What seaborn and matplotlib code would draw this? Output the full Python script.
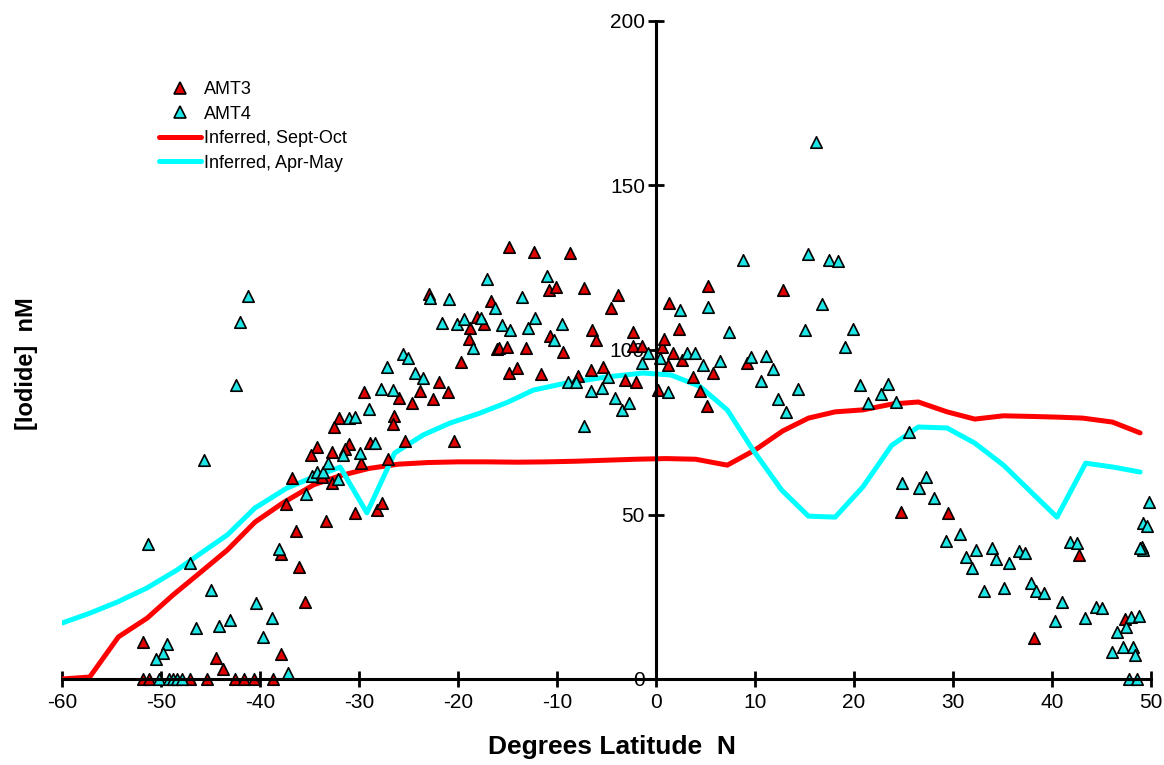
import matplotlib
matplotlib.use("Agg")
import matplotlib.pyplot as plt
import pandas as pd
import seaborn as sns
from matplotlib.lines import Line2D

# measured iodide (lat, nM)
amt3_points = [
    (-51.8, 0), (-51.2, 0), (-47.1, 0), (-45.4, 0), (-42.5, 0), (-41.6, 0), (-40.6, 0), (-38.7, 0),
    (-51.8, 11.2), (-44.4, 6.4), (-43.7, 3.0), (-37.9, 7.6),
    (-35.5, 23.4), (-36.1, 34.0), (-37.9, 38.0), (-36.4, 45.0), (-37.4, 53.2), (-33.3, 48.0),
    (-36.8, 61.0), (-33.7, 61.4), (-32.7, 59.6), (-30.4, 50.5), (-28.2, 51.4), (-27.7, 53.5),
    (-29.8, 65.6), (-27.1, 66.9),
    (-21.9, 90.3), (-23.8, 87.5), (-22.5, 85.1), (-24.6, 83.9), (-26.0, 85.4), (-29.5, 87.2),
    (-26.5, 80.0), (-26.6, 77.5), (-32.0, 79.3), (-32.5, 76.6), (-25.4, 72.3), (-28.9, 71.7),
    (-31.0, 71.4), (-31.4, 69.9), (-34.2, 70.5), (-34.8, 68.0), (-32.7, 69.0), (-21.0, 87.2),
    (-20.4, 72.3),
    (-22.9, 117.0), (-16.7, 114.9), (-18.8, 106.7), (-18.1, 110.0), (-17.4, 107.9), (-18.9, 103.3),
    (-19.7, 96.4), (-16.1, 100.3),
    (-14.8, 131.3), (-12.3, 129.8), (-8.7, 129.5), (-10.8, 118.2), (-10.1, 119.1), (-7.3, 118.8),
    (-10.7, 104.3), (-15.9, 100.6), (-15.1, 100.9), (-13.1, 100.6), (-9.4, 99.4), (-14.8, 93.0),
    (-14.0, 94.5), (-11.6, 92.7), (-7.9, 92.1), (-6.6, 93.9), (-6.5, 106.0), (-6.1, 103.0),
    (-3.8, 116.7), (-4.5, 112.8), (5.3, 119.5), (1.3, 114.3), (2.3, 106.4), (-2.3, 105.5),
    (-2.3, 101.2), (-1.4, 101.2), (0.6, 100.9), (0.8, 103.3), (1.7, 99.1), (2.6, 97.0),
    (1.2, 95.4), (5.8, 93.0), (3.7, 91.8), (-5.4, 94.8), (-3.1, 90.9), (-2.0, 90.3),
    (0.2, 87.8), (4.4, 87.5), (5.2, 83.0),
    (12.8, 118.2), (9.2, 96.0), (24.7, 50.8), (29.5, 50.5), (38.2, 12.5), (42.7, 37.7), (47.4, 18.2),
]

amt4_points = [
    (-50.2, 0), (-49.2, 0), (-48.8, 0), (-48.4, 0), (-47.9, 0), (-37.2, 1.8),
    (-49.4, 10.6), (-49.8, 7.9), (-50.5, 6.1), (-39.7, 12.8),
    (-45.7, 66.6), (-51.3, 41.0), (-47.1, 35.3), (-45.0, 27.0), (-40.4, 23.0), (-46.5, 15.5),
    (-44.1, 16.1), (-43.0, 17.9), (-38.8, 18.5),
    (-38.1, 39.5), (-35.4, 56.2), (-34.7, 61.7), (-34.2, 63.0), (-33.6, 63.0), (-33.1, 65.6),
    (-32.1, 60.8), (-29.9, 68.7), (-31.6, 68.0),
    (-25.6, 98.8), (-25.1, 97.6), (-27.2, 94.8), (-24.3, 93.0), (-23.5, 91.5), (-26.6, 87.8),
    (-27.8, 88.1), (-29.0, 82.0), (-31.0, 79.3), (-30.4, 79.6), (-28.4, 71.7),
    (-41.2, 116.4), (-42.0, 108.5), (-42.4, 89.4),
    (-17.1, 121.6), (-22.8, 115.8), (-20.9, 115.5), (-16.3, 112.8), (-21.6, 108.2), (-20.1, 107.9),
    (-19.4, 109.4), (-17.7, 109.7), (-18.5, 100.6),
    (-11.0, 122.5), (-13.5, 116.1), (-15.6, 107.6), (-14.7, 106.0), (-12.2, 109.7), (-12.9, 106.7),
    (-9.5, 107.9), (-10.3, 103.0), (-8.9, 90.3), (-8.1, 90.3), (-6.6, 87.5), (-7.3, 76.9),
    (5.3, 113.0), (2.4, 112.2), (-0.8, 99.1), (0.4, 97.6), (3.1, 99.1), (3.9, 99.1),
    (4.7, 95.4), (6.5, 96.7), (-1.4, 96.0), (-4.8, 91.8), (1.2, 87.2), (-5.5, 88.4),
    (-4.1, 85.4), (-3.4, 81.8), (-2.7, 83.9),
    (16.2, 163.2), (8.8, 127.4), (15.4, 129.2), (17.5, 127.4), (18.4, 127.0), (16.8, 114.0),
    (7.4, 105.5), (15.1, 106.1), (19.9, 106.4), (19.1, 100.9), (9.6, 97.9), (11.1, 98.2),
    (11.8, 94.2), (10.6, 90.6), (14.3, 88.1), (12.3, 85.1), (13.1, 81.2), (20.6, 89.4),
    (23.4, 89.7), (22.7, 86.6), (21.4, 83.9), (24.2, 84.2), (25.6, 75.0),
    (24.8, 59.6), (26.6, 58.1), (27.3, 61.4), (28.1, 55.0), (29.3, 41.9), (30.7, 44.1),
    (31.3, 37.1), (32.3, 39.2), (31.9, 33.7), (33.9, 39.8), (34.3, 36.5), (35.7, 35.3),
    (33.1, 26.7), (35.2, 27.7), (36.7, 38.9), (37.3, 38.3), (37.9, 29.2), (38.4, 26.7),
    (39.2, 26.1), (41.0, 23.4), (40.3, 17.6), (41.8, 41.6), (42.5, 41.3), (43.3, 18.5),
    (44.4, 21.9), (45.1, 21.6),
    (46.1, 8.2), (46.6, 14.3), (47.5, 15.8), (48.0, 18.8), (48.8, 19.1), (47.2, 9.7),
    (48.2, 9.7), (48.4, 7.3), (47.8, 0), (48.6, 0), (49.8, 53.8), (49.2, 47.4),
    (49.6, 46.5), (49.1, 40.1), (49.2, 39.2), (48.9, 39.8),
]

# inferred curves
sept_oct_lat = [-60, -57.2, -54.3, -51.4, -48.8, -46.1, -43.3, -40.5, -37.7, -34.6,
                -31.9, -29, -26, -23, -20, -17, -14, -11, -8, -5,
                -2, 1, 4, 7.2, 10, 12.8, 15.4, 18.1, 20.9, 23.9,
                26.5, 29.4, 32.2, 35.1, 38, 40.5, 43.1, 46.1, 48.9]
sept_oct_iod = [0, 0.6, 12.8, 18.5, 25.5, 32.2, 39.2, 47.7, 53.5, 59,
                61.8, 64, 65.3, 65.8, 66, 66, 65.9, 66, 66.2, 66.5,
                66.8, 67, 66.8, 65, 69.6, 75.4, 79.3, 81.2, 81.8, 83.6,
                84.2, 81.2, 79, 80, 79.8, 79.6, 79.3, 78.1, 74.8]
apr_may_lat = [-60, -57.2, -54.4, -51.4, -48.4, -45.8, -43.3, -40.5, -37.3, -34.6,
               -31.9, -29.2, -26.4, -23.5, -20.8, -17.8, -15, -12.4, -9, -5,
               -1.3, 1.5, 4.4, 7.2, 9.8, 12.7, 15.4, 18.1, 20.9, 23.8,
               26.5, 29.4, 32.2, 35.1, 38, 40.5, 43.4, 46.2, 48.9]
apr_may_iod = [17, 20, 23.4, 27.7, 33.1, 38.6, 43.8, 52, 58, 61.4,
               64.4, 50.5, 68.7, 74.2, 77.8, 80.8, 84.1, 87.8, 90, 91.8,
               93, 92.4, 89, 81.8, 69.6, 57.4, 49.5, 49.2, 58.4, 71,
               76.6, 76.3, 71.7, 65, 56.5, 49.2, 65.6, 64.4, 62.9]

RED_LINE, CYAN_LINE = "#ff0000", "#00ffff"
RED_MARK, CYAN_MARK = "#e00000", "#1ee6e6"

sns.set_style("white")
plt.rcParams["font.family"] = ["Liberation Sans", "DejaVu Sans"]
plt.rcParams["axes.unicode_minus"] = False
plt.rcParams["text.color"] = "black"
plt.rcParams["axes.labelcolor"] = "black"

amt3 = pd.DataFrame(amt3_points, columns=["lat", "iodide"])
amt4 = pd.DataFrame(amt4_points, columns=["lat", "iodide"])
sept = pd.DataFrame({"lat": sept_oct_lat, "iodide": sept_oct_iod})
april = pd.DataFrame({"lat": apr_may_lat, "iodide": apr_may_iod})

fig = plt.figure(figsize=(11.64, 7.65), dpi=100)
ax = fig.add_axes([62 / 1164, 1 - 679 / 765, 1089 / 1164, 658 / 765])

sns.lineplot(data=sept, x="lat", y="iodide", color=RED_LINE, linewidth=3.6, sort=False, ax=ax, zorder=2)
sns.lineplot(data=april, x="lat", y="iodide", color=CYAN_LINE, linewidth=3.6, sort=False, ax=ax, zorder=2)
sns.scatterplot(data=amt3, x="lat", y="iodide", marker="^", s=68, color=RED_MARK,
                edgecolor="black", linewidth=1.2, ax=ax, zorder=3, clip_on=False)
sns.scatterplot(data=amt4, x="lat", y="iodide", marker="^", s=68, color=CYAN_MARK,
                edgecolor="black", linewidth=1.2, ax=ax, zorder=4, clip_on=False)

ax.set_xlim(-60, 50)
ax.set_ylim(0, 200)
ax.set_xticks(range(-60, 51, 10))
ax.set_yticks(range(0, 201, 50))
for side in ["top", "right"]:
    ax.spines[side].set_visible(False)
ax.spines["left"].set_position(("data", 0))
ax.spines["bottom"].set_position(("data", 0))
for side in ["left", "bottom"]:
    ax.spines[side].set_linewidth(2.2)
    ax.spines[side].set_color("black")
    ax.spines[side].set_zorder(5)
ax.tick_params(axis="both", direction="inout", length=12, width=2, color="black",
               labelsize=15, labelcolor="black", bottom=True, left=True)
ax.tick_params(axis="x", pad=4)
ax.tick_params(axis="y", pad=2)

ax.set_xlabel("Degrees Latitude  N", fontsize=19, fontweight="bold")
ax.set_ylabel("[Iodide]  nM", fontsize=17, fontweight="bold")
ax.xaxis.set_label_coords(0.505, -0.085)
ax.yaxis.set_label_coords(-0.022, 0.48)

handles = [
    Line2D([], [], linestyle="none", marker="^", markersize=8.5, markerfacecolor=RED_MARK,
           markeredgecolor="black", markeredgewidth=1.2),
    Line2D([], [], linestyle="none", marker="^", markersize=8.5, markerfacecolor=CYAN_MARK,
           markeredgecolor="black", markeredgewidth=1.2),
    Line2D([], [], color=RED_LINE, linewidth=3.6),
    Line2D([], [], color=CYAN_LINE, linewidth=3.6),
]
labels = ["AMT3", "AMT4", "Inferred, Sept-Oct", "Inferred, Apr-May"]
leg = fig.legend(handles, labels, loc="upper left", bbox_to_anchor=(159 / 1164, 1 - 81 / 765),
                 frameon=False, fontsize=13, handlelength=2.3, handletextpad=0.2,
                 labelspacing=0.42, borderpad=0, borderaxespad=0)
for text in leg.get_texts():
    text.set_color("black")

fig.savefig("out.png", dpi=100)
